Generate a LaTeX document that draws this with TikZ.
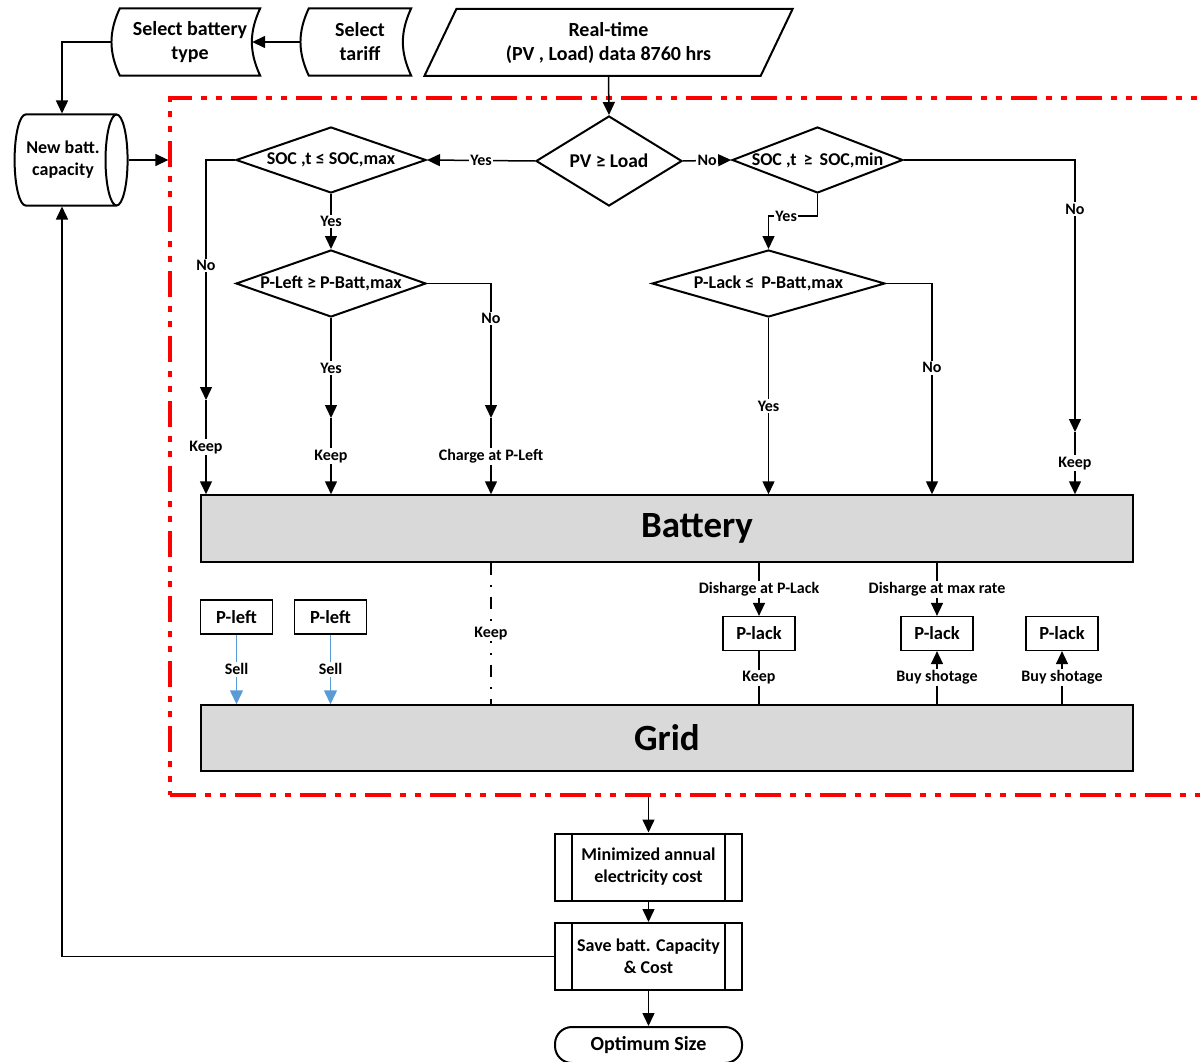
\documentclass[tikz,border=0pt]{standalone}
\usepackage{fontspec}
\setmainfont{Carlito}
\usetikzlibrary{shapes.geometric, arrows.meta, positioning}

\definecolor{boxgray}{HTML}{D9D9D9}
\definecolor{sellblue}{HTML}{5B9BD5}
\definecolor{framered}{HTML}{FF0000}

\begin{document}
\begin{tikzpicture}[
    x=1pt, y=-1pt,
    font=\bfseries\fontsize{20}{24}\selectfont,
    store/.style={rectangle, minimum width=#1, minimum height=67pt, inner sep=0pt, align=center},
    decision/.style={diamond, draw, line width=2pt, inner sep=0pt, align=center, font=\bfseries\fontsize{18}{21}\selectfont},
    bar/.style={rectangle, draw, line width=1.5pt, fill=boxgray, minimum width=932pt, minimum height=67pt, font=\bfseries\fontsize{37}{42}\selectfont},
    power/.style={rectangle, draw, line width=1.2pt, minimum width=72pt, minimum height=34pt, font=\bfseries\fontsize{18.5}{21}\selectfont},
    predef/.style={rectangle, draw, line width=2pt, minimum width=187pt, minimum height=67pt, align=center, font=\bfseries\fontsize{18}{22}\selectfont},
    term/.style={rectangle, draw, line width=2pt, rounded corners=17pt, minimum width=187pt, minimum height=36pt, font=\bfseries\fontsize{20}{23}\selectfont},
    frame/.style={rectangle, draw=framered, line width=3.3pt, dash pattern=on 26pt off 9pt on 6pt off 9pt on 6pt off 9pt, minimum width=1060pt, minimum height=697pt},
    line/.style={draw, line width=1.5pt, -{Triangle[length=13pt,width=12pt]}},
    link/.style={draw, line width=1.5pt},
    sell/.style={draw=sellblue, line width=1.5pt, -{Triangle[length=14pt,width=13pt]}},
    keepline/.style={draw, line width=1.2pt, dash pattern=on 12pt off 10pt on 2pt off 10pt},
    lbl/.style={fill=white, inner sep=1.5pt, font=\bfseries\fontsize{16}{18}\selectfont}
]
    \useasboundingbox (0,0) rectangle (1200,1062);

    % inputs
    \node [store=140pt] (battype) at (190,42) {Select battery\\type};
    \node [store=102pt] (tariff) at (360,42) {Select\\tariff};
    \node [trapezium, trapezium left angle=65, trapezium right angle=115, trapezium stretches=true,
           draw, line width=2pt, minimum width=369pt, minimum height=67pt, align=center]
           (data) at (608.5,42.5) {Real-time\\(PV , Load) data 8760 hrs};
    \node [cylinder, shape border rotate=0, aspect=0.5, draw, line width=2pt,
           minimum width=91pt, minimum height=113pt, align=center, font=\bfseries\fontsize{18}{22}\selectfont]
           (newbatt) at (63,160) {New batt.\\capacity};
    \foreach \n in {battype, tariff}
        \draw [line width=2pt] (\n.north west) to[bend right=25] (\n.south west) -- (\n.south east)
              to[bend left=25] (\n.north east) -- cycle;

    % simulation frame
    \node [frame] (frame) at (700,446.5) {};

    % decisions
    \node [decision, aspect=1.6, minimum width=146pt, minimum height=90pt,
           font=\bfseries\fontsize{19.5}{22}\selectfont] (pvload) at (609,161) {PV ≥ Load};
    \node [decision, aspect=2.9, minimum width=190pt, minimum height=66pt] (socmax) at (331,160) {SOC ,t ≤ SOC,max};
    \node [decision, aspect=2.6, minimum width=169pt, minimum height=66pt] (socmin) at (817.5,160) {SOC ,t \,≥\, SOC,min};
    \node [decision, aspect=2.9, minimum width=190pt, minimum height=67pt] (pleftd) at (331,283.5) {P-Left ≥ P-Batt,max};
    \node [decision, aspect=3.5, minimum width=233pt, minimum height=67pt] (plackd) at (768.5,283.5) {P-Lack ≤ \,P-Batt,max};

    % storage and grid
    \node [bar, label={[font=\bfseries\fontsize{37}{42}\selectfont, xshift=30pt]center:Battery}] (battery) at (667,528.5) {};
    \node [bar, minimum height=66pt] (grid) at (667,738) {Grid};

    \node [power] (pleft1) at (236.5,617) {P-left};
    \node [power] (pleft2) at (330.5,617) {P-left};
    \node [power] (plack1) at (759,633.5) {P-lack};
    \node [power] (plack2) at (937,633.5) {P-lack};
    \node [power] (plack3) at (1062,633.5) {P-lack};

    % results
    \node [predef] (mincost) at (648.5,867) {Minimized annual\\electricity cost};
    \node [predef] (savecap) at (648.5,956.5) {Save batt. Capacity\\\& Cost};
    \node [term] (optimum) at (648.5,1045) {Optimum Size};
    \foreach \n in {mincost, savecap} {
        \draw [line width=2pt] ([xshift=18pt]\n.north west) -- ([xshift=18pt]\n.south west);
        \draw [line width=2pt] ([xshift=-18pt]\n.north east) -- ([xshift=-18pt]\n.south east);
    }

    % bend points
    \coordinate (loopX) at (62,0);
    \coordinate (keepL) at (206,400);
    \coordinate (keepM) at (331,418);
    \coordinate (chargeP) at (491,418);
    \coordinate (keepR) at (1075,432);
    \coordinate (dischX) at (932,0);
    \coordinate (keepX) at (491,0);

    % input flow
    \path [line] ([xshift=-8pt]tariff.west) -- ([xshift=-8pt]battype.east);
    \path [line] ([xshift=-8pt]battype.west) -| (newbatt.north -| loopX);
    \path [line] (data.south) -- (pvload.north);
    \path [line] (newbatt.east) -- (frame.west |- newbatt.east);

    % charging side
    \path [line] (pvload.west) -- node[lbl]{Yes} (socmax.east);
    \path [line] (socmax.west) -| node[lbl, pos=0.72]{No} (keepL);
    \path [line] (keepL) -- node[lbl]{Keep} (keepL |- battery.north);
    \path [line] (socmax.south) -- node[lbl]{Yes} (pleftd.north);
    \path [line] (pleftd.south) -- node[lbl]{Yes} (keepM);
    \path [line] (keepM) -- node[lbl]{Keep} (keepM |- battery.north);
    \path [line] (pleftd.east) -| node[lbl, pos=0.63]{No} (chargeP);
    \path [line] (chargeP) -- node[lbl]{Charge at P-Left} (chargeP |- battery.north);

    % discharging side
    \path [line] (pvload.east) -- node[lbl]{No} (socmin.west);
    \path [line] (socmin.south) -- ++(0,22) -| node[lbl, pos=0.32]{Yes} (plackd.north);
    \path [line] (socmin.east) -| node[lbl, pos=0.59]{No} (keepR);
    \path [line] (keepR) -- node[lbl]{Keep} (keepR |- battery.north);
    \path [line] (plackd.south) -- node[lbl]{Yes} (plackd.south |- battery.north);
    \path [line] (plackd.east) -| node[lbl, pos=0.70]{No} (battery.north -| dischX);

    % battery to grid
    \path [sell] (pleft1.south) -- node[lbl]{Sell} (pleft1.south |- grid.north);
    \path [sell] (pleft2.south) -- node[lbl]{Sell} (pleft2.south |- grid.north);
    \path [keepline] (battery.south -| keepX) -- node[lbl]{Keep} (grid.north -| keepX);
    \path [line] (battery.south -| plack1) -- node[lbl]{Disharge at P-Lack} (plack1.north);
    \path [line] (battery.south -| plack2) -- node[lbl]{Disharge at max rate} (plack2.north);
    \path [link] (plack1.south) -- node[lbl]{Keep} (grid.north -| plack1);
    \path [line] (grid.north -| plack2) -- node[lbl]{Buy shotage} (plack2.south);
    \path [line] (grid.north -| plack3) -- node[lbl]{Buy shotage} (plack3.south);

    % results flow
    \path [line] (frame.south -| mincost) -- (mincost.north);
    \path [line] (mincost) -- (savecap);
    \path [line] (savecap) -- (optimum);
    \path [line] (savecap.west) -| (newbatt.south -| loopX);
\end{tikzpicture}
\end{document}
